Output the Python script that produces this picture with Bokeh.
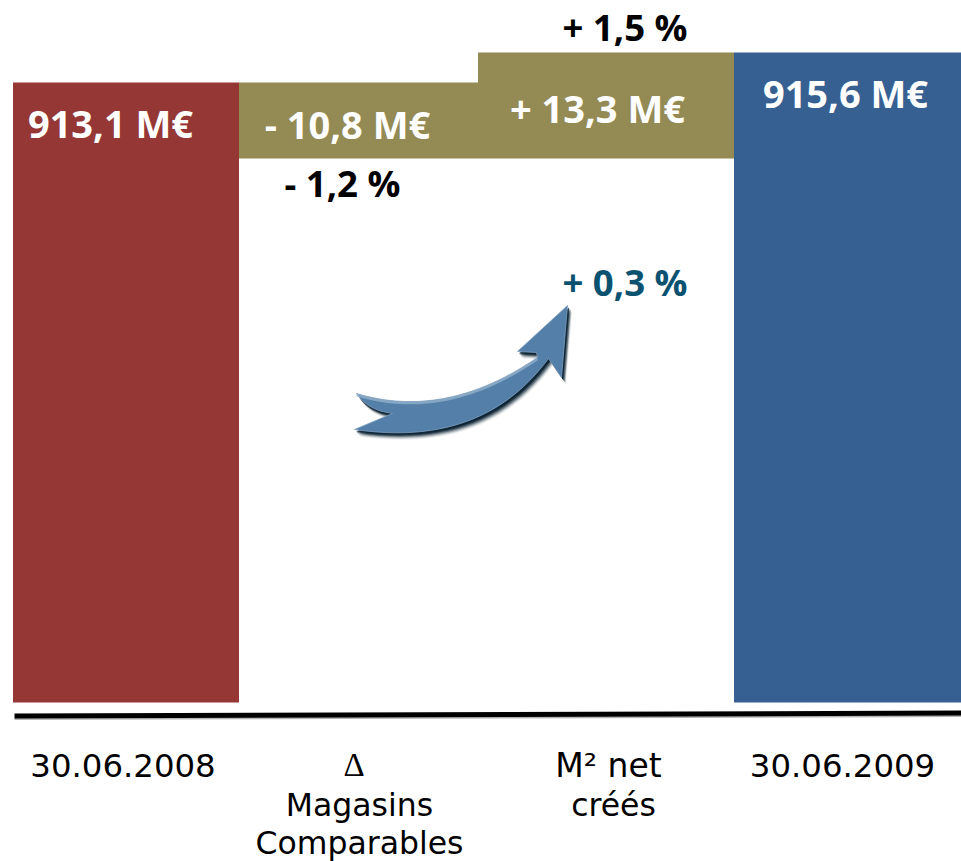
import numpy as np
from bokeh.core.properties import value
from bokeh.embed import file_html
from bokeh.models import ColumnDataSource, Range1d
from bokeh.plotting import figure
from bokeh.resources import INLINE

# Sales bridge, in M€
categories = ["30.06.2008", "Magasins Comparables", "M² net créés", "30.06.2009"]
start_value = [913.1]
changes = [-10.8, 13.3]
end_value = [915.6]
value_labels = ["913,1 M€", "- 10,8 M€", "+ 13,3 M€", "915,6 M€"]
percent_labels = ["- 1,2 %", "+ 1,5 %"]
total_label = ["+ 0,3 %"]

RED, OLIVE, BLUE = "#953735", "#948A54", "#376092"
WIDTH, HEIGHT, BASE = 961, 861, 702

# The vertical scale is broken: a long stretch up to the lowest level,
# then separate stretches for each step of the bridge.
level_1 = start_value[0] + changes[0]
level_2 = level_1 + changes[1]
scale_values = [0, level_1, start_value[0], end_value[0]]
scale_heights = [0, 544, 620, 650]


def h(v):
    return float(np.interp(v, scale_values, scale_heights))


def py(y):
    """Pixel row to plot coordinate."""
    return BASE - np.asarray(y, dtype=float)


edges = [12.5, 238.5, 477.5, 733.5, 961]
bars = ColumnDataSource(dict(
    left=edges[:-1],
    right=edges[1:],
    bottom=[h(0), h(level_1), h(level_1), h(0)],
    top=[h(start_value[0]), h(start_value[0]), h(level_2), h(end_value[0])],
    color=[RED, OLIVE, OLIVE, BLUE],
))

p = figure(width=WIDTH, height=HEIGHT, output_backend="svg", toolbar_location=None,
           x_range=Range1d(0, WIDTH), y_range=Range1d(BASE - HEIGHT, BASE),
           min_border=0, outline_line_color=None)
p.axis.visible = False
p.grid.visible = False
p.background_fill_color = "white"
p.border_fill_color = "white"

p.quad(left="left", right="right", bottom="bottom", top="top", fill_color="color",
       line_color=None, source=bars)

# Baseline, very slightly tilted, with a soft lower edge
p.patch([14, 961, 961, 14], py([717.5, 714.5, 716.5, 719.5]), fill_color="#808080",
        fill_alpha=0.6, line_color=None)
p.patch([14, 961, 961, 14], py([713, 710, 715, 718]), fill_color="black", line_color=None)


def bezier(p0, c, p1, n=24):
    t = np.linspace(0, 1, n)[:, None]
    p0, c, p1 = map(np.asarray, (p0, c, p1))
    return (1 - t) ** 2 * p0 + 2 * t * (1 - t) * c + t ** 2 * p1


# Curved arrow outline: forked tail, upper edge, barbed head, lower edge
upper_edge = bezier((356, 393), (445, 420), (537, 357))
outline = np.vstack([
    upper_edge,
    [(536, 352), (517, 351), (567, 305), (561, 377), (548, 358)],
    bezier((548, 358), (482, 448), (354, 429)),
    [(392, 413)],
    bezier((392, 413), (367, 410), (356, 393), 8),
])

# Soft shadow built from stacked offset copies
for dx, dy, alpha in [(4.5, 7, 0.08), (4, 6, 0.14), (3.5, 5, 0.25), (3, 4, 0.4), (2, 3, 0.65), (1.5, 2, 0.85)]:
    p.patch(outline[:, 0] + dx, py(outline[:, 1] + dy), fill_color="#0B2233", fill_alpha=alpha,
            line_color=None)
p.patch(outline[:, 0], py(outline[:, 1]), fill_color="#537FA8", line_color="#7FA0BF",
        line_width=0.8)
# Pale sheen along the top of the shaft
p.line(upper_edge[:, 0], py(upper_edge[:, 1] + 1.5), line_color="#9DB8D0", line_width=2.5, line_alpha=0.7)


def label(x, y, text, color, size, style="bold", font="Open Sans"):
    # y is the row the digits sit on; the text glyph's baseline runs a little low
    p.text([x], [BASE - y + 0.40 * size], text=[text], text_color=color, text_font=value(font),
           text_font_size=f"{size}px", text_font_style=style, text_align="center",
           text_baseline="alphabetic")


BOLD = 38
PCT = 36.6
label(110, 138, value_labels[0], "white", BOLD)
label(347, 139, value_labels[1], "white", BOLD)
label(597, 123, value_labels[2], "white", BOLD)
label(845, 108, value_labels[3], "white", BOLD)
label(342, 197, percent_labels[0], "black", PCT)
label(624.5, 41, percent_labels[1], "black", PCT)
label(624.5, 296, total_label[0], "#0B5270", PCT)

SANS = "DejaVu Sans"
label(122.5, 778, categories[0], "black", 32.4, "normal", SANS)
label(353.5, 778, "Δ", "black", 33, "normal", "Liberation Serif")
label(359, 817, "Magasins", "black", 31.5, "normal", SANS)
label(359, 855, "Comparables", "black", 31.5, "normal", SANS)
label(608, 778, "M² net", "black", 33, "normal", SANS)
label(613, 817, "créés", "black", 31.5, "normal", SANS)
label(842, 778, categories[3], "black", 32.4, "normal", SANS)

open("out.html", "w").write(file_html(p, INLINE))
